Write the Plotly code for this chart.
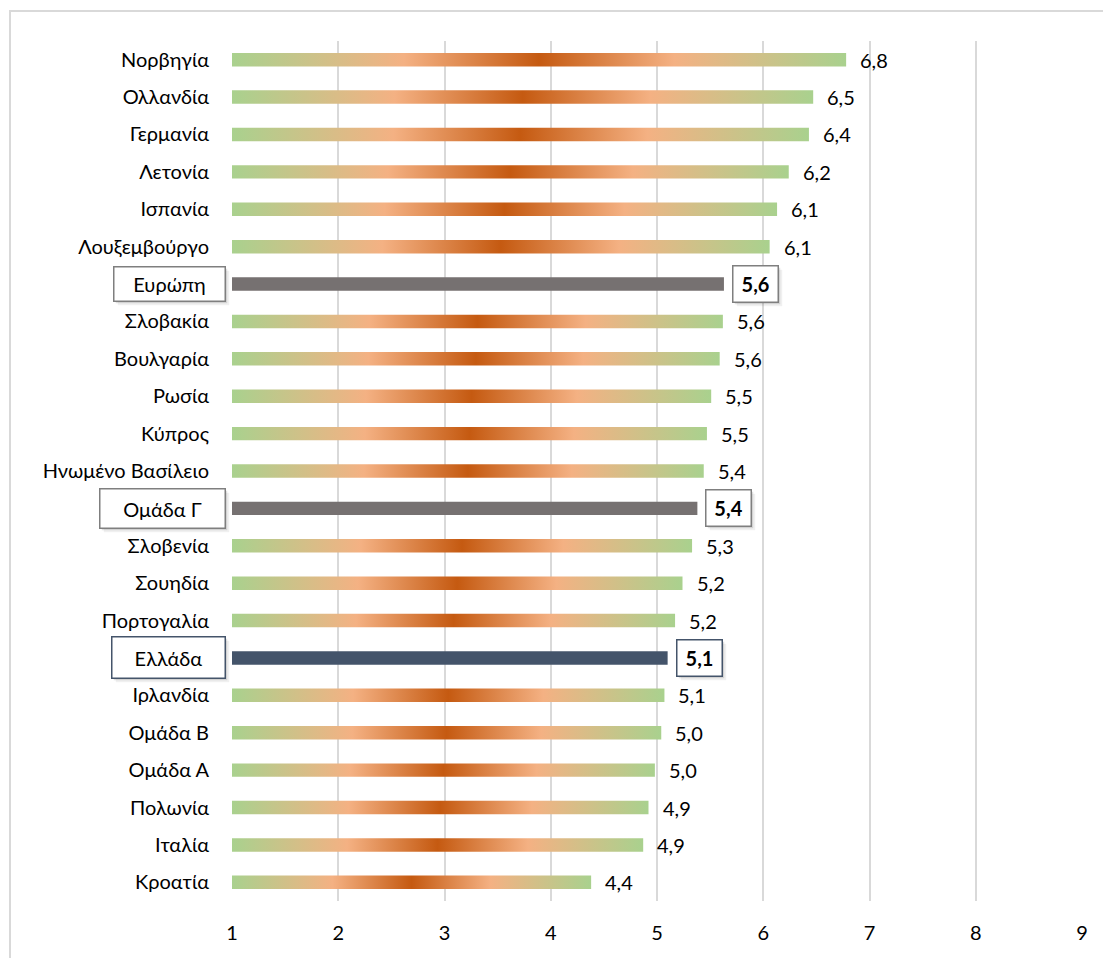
import plotly.graph_objects as go

# Δεδομένα (από πάνω προς τα κάτω)
countries = [
    "Νορβηγία", "Ολλανδία", "Γερμανία", "Λετονία", "Ισπανία", "Λουξεμβούργο",
    "Ευρώπη", "Σλοβακία", "Βουλγαρία", "Ρωσία", "Κύπρος", "Ηνωμένο Βασίλειο",
    "Ομάδα Γ", "Σλοβενία", "Σουηδία", "Πορτογαλία", "Ελλάδα", "Ιρλανδία",
    "Ομάδα Β", "Ομάδα Α", "Πολωνία", "Ιταλία", "Κροατία",
]
values = [
    6.78, 6.47, 6.43, 6.24, 6.13, 6.06,
    5.63, 5.62, 5.59, 5.51, 5.47, 5.44,
    5.38, 5.33, 5.24, 5.17, 5.10, 5.07,
    5.04, 4.98, 4.92, 4.87, 4.38,
]
x_ticks = [1, 2, 3, 4, 5, 6, 7, 8, 9]

highlight = {
    "Ευρώπη": "#767171",
    "Ομάδα Γ": "#767171",
    "Ελλάδα": "#44546A",
}
box_border = {
    "Ευρώπη": "#7F7F7F",
    "Ομάδα Γ": "#7F7F7F",
    "Ελλάδα": "#44546A",
}
# μέγεθος πλαισίων στις ετικέτες κατηγορίας (px)
cat_box = {
    "Ευρώπη": (108, 31),
    "Ομάδα Γ": (122, 36),
    "Ελλάδα": (110, 38),
}

FONT = "Lato"
FS = 20
W, H = 1111, 958
# η σελίδα έχει περιθώριο 8px, γι' αυτό τα περιθώρια είναι μετατοπισμένα
ML, MT = 224, 33
PW, PH = 850, 860
MR, MB = W - ML - PW, H - MT - PH

gradient = [
    [0.0, "#A9D18E"],
    [0.28, "#F4B183"],
    [0.5, "#C55A11"],
    [0.72, "#F4B183"],
    [1.0, "#A9D18E"],
]

half = 0.18
fig = go.Figure()

for i, (name, v) in enumerate(zip(countries, values)):
    xs = [1, v, v, 1, 1]
    ys = [i - half, i - half, i + half, i + half, i - half]
    if name in highlight:
        fig.add_trace(go.Scatter(
            x=xs, y=ys, mode="lines", fill="toself",
            fillcolor=highlight[name], line=dict(width=0),
            hoverinfo="skip", showlegend=False,
        ))
    else:
        fig.add_trace(go.Scatter(
            x=xs, y=ys, mode="lines", fill="toself",
            fillgradient=dict(type="horizontal", colorscale=gradient),
            line=dict(width=0),
            hoverinfo="skip", showlegend=False,
        ))

annotations = []


def shadow(**kw):
    # απλή σκιά: δύο ημιδιαφανή πλαίσια μετατοπισμένα κάτω-δεξιά
    out = []
    for off, alpha in [(4, 0.06), (2, 0.12)]:
        d = dict(kw)
        d["text"] = " "
        d["xshift"] = d.get("xshift", 0) + off
        d["yshift"] = d.get("yshift", 0) - off
        d["bgcolor"] = f"rgba(0,0,0,{alpha})"
        d["bordercolor"] = "rgba(0,0,0,0)"
        out.append(d)
    return out


for i, (name, v) in enumerate(zip(countries, values)):
    label = f"{v:.1f}".replace(".", ",")
    if name in highlight:
        base = dict(
            x=v, y=i, xref="x", yref="y", xanchor="left", yanchor="middle",
            xshift=8, text=f"<b>{label}</b>", showarrow=False,
            width=42, height=33, borderpad=1, borderwidth=1.5,
            align="center",
        )
        annotations += shadow(**base)
        annotations.append(dict(base, bgcolor="white", bordercolor=box_border[name],
                                font=dict(family=FONT, size=FS, color="black")))

        bw, bh = cat_box[name]
        cat = dict(
            x=0, y=i, xref="paper", yref="y", xanchor="right", yanchor="middle",
            xshift=-6, text=name, showarrow=False,
            width=bw, height=bh,
            borderpad=1, borderwidth=1.5, align="center",
        )
        annotations += shadow(**cat)
        annotations.append(dict(cat, bgcolor="white", bordercolor=box_border[name],
                                font=dict(family=FONT, size=FS, color="black")))
    else:
        annotations.append(dict(
            x=v, y=i, xref="x", yref="y", xanchor="left", yanchor="middle",
            xshift=12, text=label, showarrow=False,
            font=dict(family=FONT, size=FS, color="black"),
        ))

tick_text = ["" if c in highlight else c for c in countries]

fig.update_layout(
    width=W, height=H,
    margin=dict(l=ML, r=MR, t=MT, b=MB),
    paper_bgcolor="white", plot_bgcolor="white",
    font=dict(family=FONT, size=FS, color="black"),
    showlegend=False,
    xaxis=dict(
        range=[1, 9], tickvals=x_ticks, ticktext=[str(t) for t in x_ticks],
        showgrid=True, gridcolor="#D9D9D9", gridwidth=2,
        zeroline=False, showline=False, ticks="",
        ticklabelstandoff=18, fixedrange=True,
    ),
    yaxis=dict(
        range=[len(countries) - 0.5, -0.5],
        tickvals=list(range(len(countries))), ticktext=tick_text,
        showgrid=False, zeroline=False, showline=False, ticks="",
        ticklabelstandoff=22, fixedrange=True,
    ),
    annotations=annotations,
    shapes=[dict(
        type="rect", xref="paper", yref="paper",
        x0=(2 - ML) / PW, x1=(1125 - ML) / PW,
        y0=(PH + MT - 975) / PH, y1=(PH + MT - 3) / PH,
        line=dict(color="#D9D9D9", width=2), layer="below",
    )],
)

fig.write_html("out.html")
